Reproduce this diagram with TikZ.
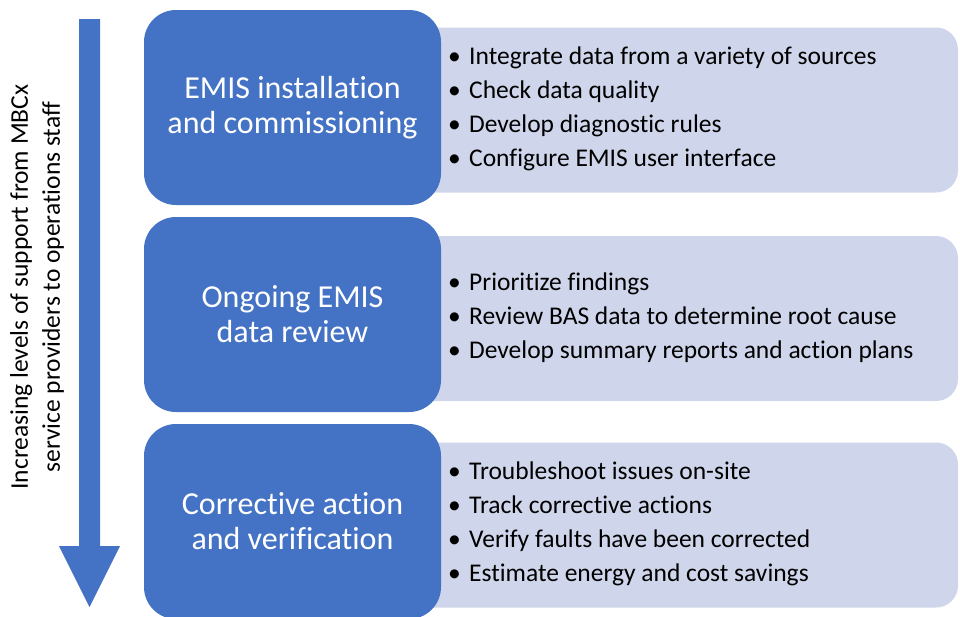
\documentclass[tikz,border=0pt]{standalone}
\usepackage{fontspec}
\setmainfont{Carlito}[Ligatures={NoCommon}]
\definecolor{boxblue}{HTML}{4472C4}
\definecolor{panelfill}{HTML}{CFD5EA}
\newcommand\bulletitem{\makebox[21pt][l]{\textbullet}}
\begin{document}
\begin{tikzpicture}[x=1pt,y=-1pt,
  stage/.style={fill=boxblue, rounded corners=32pt, minimum width=297pt, minimum height=195pt,
    text=white, align=center, font=\fontsize{32}{35}\selectfont, inner sep=0pt},
  panel/.style={fill=panelfill, rounded corners=22pt, minimum width=658pt, minimum height=165pt, inner sep=0pt},
  items/.style={anchor=west, align=left, inner sep=0pt, font=\fontsize{25.5}{34}\selectfont, text=black},
  sidelabel/.style={rotate=90, align=center, inner sep=0pt, font=\fontsize{25.5}{32}\selectfont, text=black},
]
\useasboundingbox (0,0) rectangle (960,616);

% arrow
\fill[boxblue] (79,19) -- (100,19) -- (100,546) -- (120,546) -- (89.5,607) -- (59,546) -- (79,546) -- cycle;
\node[sidelabel] (side) at (37,287) {Increasing levels of support from MBCx\\service providers to operations staff};

% panels
\node[panel] (p1) at (629,110) {};
\node[panel] (p2) at (629,318.5) {};
\node[panel] (p3) at (629,525) {};

% stage boxes
\node[stage] (s1) at (292.5,107.5) {EMIS installation\\and commissioning};
\node[stage] (s2) at (292.5,314.5) {Ongoing EMIS\\data review};
\node[stage] (s3) at (292.5,521.5) {Corrective action\\and verification};

% bullet lists
\node[items] (l1) at (448,109) {\bulletitem Integrate data from a variety of sources\\
\bulletitem Check data quality\\
\bulletitem Develop diagnostic rules\\
\bulletitem Configure EMIS user interface};
\node[items] (l2) at (448,318) {\bulletitem Prioritize findings\\
\bulletitem Review BAS data to determine root cause\\
\bulletitem Develop summary reports and action plans};
\node[items] (l3) at (448,523.5) {\bulletitem Troubleshoot issues on-site\\
\bulletitem Track corrective actions\\
\bulletitem Verify faults have been corrected\\
\bulletitem Estimate energy and cost savings};
\end{tikzpicture}
\end{document}
